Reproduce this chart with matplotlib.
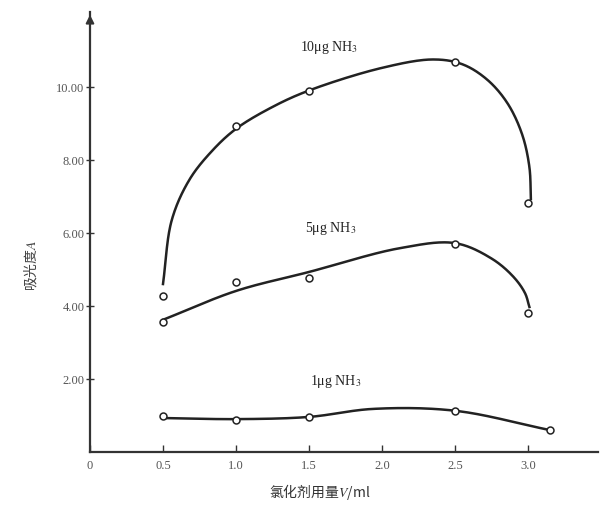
import numpy as np
import matplotlib
matplotlib.use("Agg")
import matplotlib.pyplot as plt

plt.rcParams['font.family'] = ['Liberation Serif', 'Noto Sans CJK SC', 'DejaVu Sans']
plt.rcParams['mathtext.fontset'] = 'stix'

# measured points
x_pts = [0.5, 1.0, 1.5, 2.5, 3.0]
y10_pts = [4.27, 8.93, 9.89, 10.68, 6.82]
y5_pts = [3.56, 4.66, 4.77, 5.70, 3.81]
x1_pts = [0.5, 1.0, 1.5, 2.5, 3.15]
y1_pts = [0.99, 0.88, 0.96, 1.12, 0.60]

# hand-drawn smooth curve knots
c10_x = [0.5, 0.56, 0.68, 0.83, 1.0, 1.25, 1.5, 2.0, 2.35, 2.55, 2.72, 2.86, 2.96, 3.01, 3.02]
c10_y = [4.60, 6.35, 7.45, 8.22, 8.85, 9.45, 9.90, 10.52, 10.75, 10.62, 10.20, 9.55, 8.70, 7.80, 6.93]
c5_x = [0.5, 1.0, 1.5, 2.12, 2.5, 2.75, 2.9, 2.98, 3.01]
c5_y = [3.62, 4.41, 4.93, 5.58, 5.72, 5.30, 4.80, 4.35, 3.97]
c1_x = [0.5, 1.0, 1.5, 1.94, 2.5, 3.15]
c1_y = [0.93, 0.90, 0.96, 1.18, 1.13, 0.60]

labels = ["10μg NH$_3$", "5μg NH$_3$", "1μg NH$_3$"]
label_pos = [(1.44, 11.1), (1.47, 6.16), (1.51, 1.95)]

x_ticks = [0, 0.5, 1.0, 1.5, 2.0, 2.5, 3.0]
x_ticklabels = ["0", "0.5", "1.0", "1.5", "2.0", "2.5", "3.0"]
y_ticks = [2, 4, 6, 8, 10]
y_ticklabels = ["2.00", "4.00", "6.00", "8.00", "10.00"]

XMAX, YMAX = 3.48, 12.05


def catmull(xs, ys, sx=146.0, sy=36.5, n=30):
    P = np.column_stack([np.asarray(xs) * sx, np.asarray(ys) * sy])
    P = np.vstack([2 * P[0] - P[1], P, 2 * P[-1] - P[-2]])
    out = []
    for i in range(1, len(P) - 2):
        p0, p1, p2, p3 = P[i - 1], P[i], P[i + 1], P[i + 2]
        a = 0.5
        t0 = 0.0
        t1 = t0 + np.linalg.norm(p1 - p0) ** a + 1e-9
        t2 = t1 + np.linalg.norm(p2 - p1) ** a + 1e-9
        t3 = t2 + np.linalg.norm(p3 - p2) ** a + 1e-9
        t = np.linspace(t1, t2, n)[:, None]
        A1 = (t1 - t) / (t1 - t0) * p0 + (t - t0) / (t1 - t0) * p1
        A2 = (t2 - t) / (t2 - t1) * p1 + (t - t1) / (t2 - t1) * p2
        A3 = (t3 - t) / (t3 - t2) * p2 + (t - t2) / (t3 - t2) * p3
        B1 = (t2 - t) / (t2 - t0) * A1 + (t - t0) / (t2 - t0) * A2
        B2 = (t3 - t) / (t3 - t1) * A2 + (t - t1) / (t3 - t1) * A3
        C = (t2 - t) / (t2 - t1) * B1 + (t - t1) / (t2 - t1) * B2
        out.append(C)
    C = np.vstack(out)
    return C[:, 0] / sx, C[:, 1] / sy


fig = plt.figure(figsize=(6, 5.1), dpi=100)
ax = fig.add_axes([0.15, 0.1118, 0.8467, 0.8627])
ax.set_xlim(0, XMAX)
ax.set_ylim(0, YMAX)

for cx, cy in [(c10_x, c10_y), (c5_x, c5_y), (c1_x, c1_y)]:
    xx, yy = catmull(cx, cy)
    ax.plot(xx, yy, color='#222222', lw=1.8, zorder=2)

for xs, ys in [(x_pts, y10_pts), (x_pts, y5_pts), (x1_pts, y1_pts)]:
    ax.plot(xs, ys, 'o', ms=5, mfc='white', mec='#222222', mew=1.1, zorder=3)

for lab, (lx, ly) in zip(labels, label_pos):
    ax.text(lx, ly, lab, fontsize=10, color='#222222', ha='left', va='center')

for s in ['top', 'right']:
    ax.spines[s].set_visible(False)
for s in ['left', 'bottom']:
    ax.spines[s].set_linewidth(1.6)
    ax.spines[s].set_color('#333333')

ax.set_xticks(x_ticks)
ax.set_xticklabels(x_ticklabels, fontsize=9, color='#555555')
ax.set_yticks(y_ticks)
ax.set_yticklabels(y_ticklabels, fontsize=9, color='#555555')
ax.tick_params(axis='x', direction='in', length=5, width=1, pad=5, color='#333333')
ax.tick_params(axis='y', direction='inout', length=6, width=1, pad=1, color='#333333')

# y-axis arrow
ax.annotate('', xy=(0, YMAX), xycoords='data', xytext=(0, YMAX - 0.6),
            arrowprops=dict(arrowstyle='-|>', color='#333333', lw=1.4,
                            mutation_scale=12), annotation_clip=False)

ax.set_ylabel('吸光度$A$', family=['Noto Sans CJK SC'], fontsize=10,
              color='#444444')
ax.yaxis.set_label_coords(-0.118, 0.427)
ax.set_xlabel('氯化剂用量$V$/ml', family=['Noto Sans CJK SC'], fontsize=10,
              color='#333333')
ax.xaxis.set_label_coords(0.453, -0.089)
ax.xaxis.label.set_va('center')
ax.yaxis.label.set_va('center')

fig.savefig('out.png', dpi=100)
